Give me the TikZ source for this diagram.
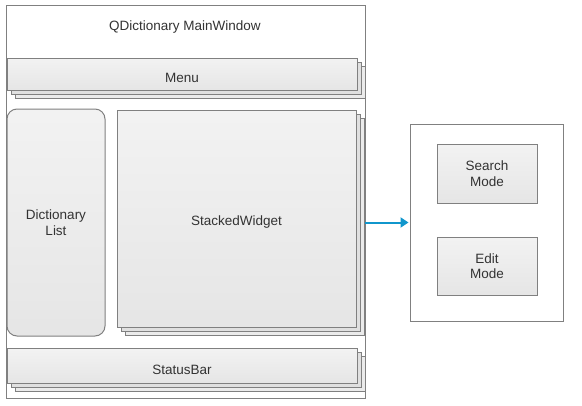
\documentclass[tikz,border=0pt]{standalone}
\usepackage{fontspec}
\setmainfont{Liberation Sans}
\usepackage{xcolor}
\usetikzlibrary{arrows.meta,positioning,shadows}

\definecolor{framegray}{RGB}{128,128,128}
\definecolor{linkblue}{RGB}{16,150,204}
\definecolor{textgray}{RGB}{51,51,51}

\begin{document}
\begin{tikzpicture}[
  x=1pt, y=-1pt,
  every node/.style={font=\fontsize{13.5}{15.5}\selectfont, text=textgray, align=center, outer sep=0pt, inner sep=2pt},
  every label/.style={font=\fontsize{13.5}{15.5}\selectfont, text=textgray, align=center, yshift=-4pt},
  frame/.style={draw=framegray, line width=1pt, fill=white},
  widget/.style={draw=framegray, line width=1pt, top color=black!5, bottom color=black!10},
  stacked/.style={widget,
    copy shadow={shadow xshift=8pt, shadow yshift=-8pt, draw=framegray, fill=black!8, line width=1pt},
    copy shadow={shadow xshift=4pt, shadow yshift=-4pt, draw=framegray, fill=black!12, line width=1pt}},
  arr/.style={-{Triangle[length=8pt, width=10pt]}, line width=2pt, draw=linkblue}
]
\useasboundingbox (0,0) rectangle (582,405);

% Main window
\node[frame, minimum width=359pt, minimum height=393pt] (main) at (185.5,201.5) {};
\node (title) at (185,27) {QDictionary MainWindow};

% Menu bar (text centred on the whole stack)
\node[stacked, minimum width=350pt, minimum height=32pt, label=center:Menu] (menu) at (182,74) {};

% Central area
\node[widget, rounded corners=10pt, minimum width=98pt, minimum height=227pt] (dictlist) at (56,222.5) {Dictionary\\List};
\node[stacked, minimum width=239pt, minimum height=217pt, label=center:StackedWidget] (stack) at (236.5,218.5) {};

% Status bar
\node[stacked, minimum width=350pt, minimum height=35pt, label=center:StatusBar] (status) at (182,365.5) {};

% Pages of the stacked widget
\node[frame, minimum width=153pt, minimum height=197pt] (modes) at (486.5,222.5) {};
\node[widget, minimum width=100pt, minimum height=59pt] (search) at (487,173.5) {Search\\Mode};
\node[widget, minimum width=100pt, minimum height=58pt] (edit) at (487,266) {Edit\\Mode};

\draw[arr] (main.east |- modes.west) -- ([xshift=-1.5pt]modes.west);

\end{tikzpicture}
\end{document}
